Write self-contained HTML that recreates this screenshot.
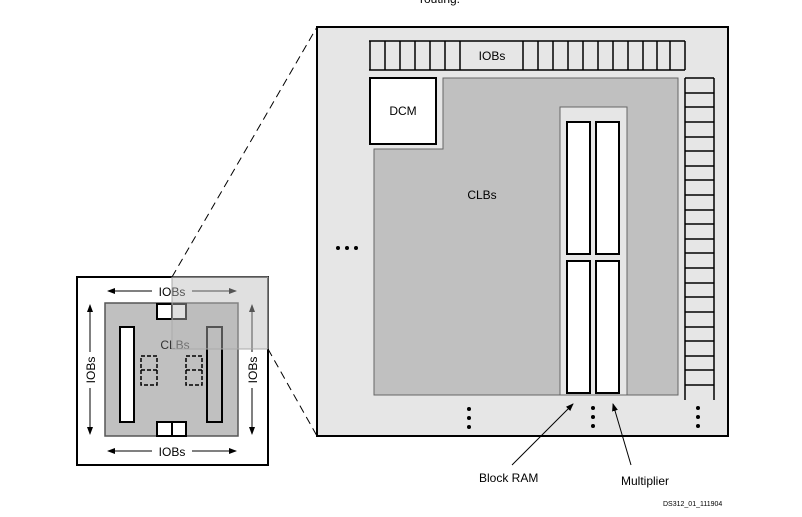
<!DOCTYPE html>
<html><head><meta charset="utf-8"><style>
html,body{margin:0;padding:0;background:#fff;width:802px;height:517px;overflow:hidden}
svg{display:block}
text{font-family:"Liberation Sans",sans-serif}
</style></head><body>
<svg width="802" height="517" viewBox="0 0 802 517" xmlns="http://www.w3.org/2000/svg">
<defs>
<marker id="ah" markerWidth="8" markerHeight="6" refX="7" refY="3" orient="auto" markerUnits="userSpaceOnUse"><path d="M0,0 L8,3 L0,6 Z" fill="#000"/></marker>
<marker id="ahg" markerWidth="8" markerHeight="6" refX="7" refY="3" orient="auto" markerUnits="userSpaceOnUse"><path d="M0,0 L8,3 L0,6 Z" fill="#888"/></marker>
</defs>
<text x="440" y="3" font-size="12" text-anchor="middle">routing.</text>

<!-- big box -->
<rect x="317" y="27" width="411" height="409" fill="#e6e6e6" stroke="#000" stroke-width="2"/>
<!-- top IOBs -->
<g stroke="#000" stroke-width="1.5">
<line x1="369" y1="41" x2="685" y2="41"/><line x1="369" y1="70" x2="685" y2="70"/>
<line x1="370" y1="41" x2="370" y2="70"/><line x1="385" y1="41" x2="385" y2="70"/><line x1="400" y1="41" x2="400" y2="70"/><line x1="415" y1="41" x2="415" y2="70"/><line x1="430" y1="41" x2="430" y2="70"/><line x1="445" y1="41" x2="445" y2="70"/><line x1="460" y1="41" x2="460" y2="70"/>
<line x1="523" y1="41" x2="523" y2="70"/><line x1="538" y1="41" x2="538" y2="70"/><line x1="553" y1="41" x2="553" y2="70"/><line x1="568" y1="41" x2="568" y2="70"/><line x1="583" y1="41" x2="583" y2="70"/><line x1="598" y1="41" x2="598" y2="70"/><line x1="613" y1="41" x2="613" y2="70"/><line x1="628" y1="41" x2="628" y2="70"/><line x1="643" y1="41" x2="643" y2="70"/><line x1="657" y1="41" x2="657" y2="70"/><line x1="670" y1="41" x2="670" y2="70"/><line x1="685" y1="41" x2="685" y2="70"/>
</g>
<text x="492" y="60" font-size="12" text-anchor="middle">IOBs</text>
<!-- CLB region -->
<path d="M443,78 H678 V395 H374 V149 H443 Z" fill="#c0c0c0" stroke="#666" stroke-width="1"/>
<rect x="370" y="78" width="66" height="66" fill="#fff" stroke="#000" stroke-width="2"/>
<text x="403" y="115" font-size="12" text-anchor="middle">DCM</text>
<text x="482" y="199" font-size="12" text-anchor="middle">CLBs</text>
<rect x="560" y="107" width="67" height="288" fill="#e6e6e6" stroke="#666" stroke-width="1"/>
<g fill="#fff" stroke="#000" stroke-width="2">
<rect x="567" y="122" width="23" height="132"/><rect x="596" y="122" width="23" height="132"/>
<rect x="567" y="261" width="23" height="132"/><rect x="596" y="261" width="23" height="132"/>
</g>
<!-- right IOBs -->
<g stroke="#000" stroke-width="1.5">
<line x1="685" y1="78" x2="685" y2="400"/><line x1="714" y1="78" x2="714" y2="400"/>
<line x1="685" y1="78" x2="714" y2="78"/><line x1="685" y1="93" x2="714" y2="93"/><line x1="685" y1="107" x2="714" y2="107"/><line x1="685" y1="122" x2="714" y2="122"/><line x1="685" y1="137" x2="714" y2="137"/><line x1="685" y1="151" x2="714" y2="151"/><line x1="685" y1="166" x2="714" y2="166"/><line x1="685" y1="180" x2="714" y2="180"/><line x1="685" y1="195" x2="714" y2="195"/><line x1="685" y1="210" x2="714" y2="210"/><line x1="685" y1="224" x2="714" y2="224"/><line x1="685" y1="239" x2="714" y2="239"/><line x1="685" y1="253" x2="714" y2="253"/><line x1="685" y1="268" x2="714" y2="268"/><line x1="685" y1="283" x2="714" y2="283"/><line x1="685" y1="297" x2="714" y2="297"/><line x1="685" y1="312" x2="714" y2="312"/><line x1="685" y1="327" x2="714" y2="327"/><line x1="685" y1="341" x2="714" y2="341"/><line x1="685" y1="356" x2="714" y2="356"/><line x1="685" y1="370" x2="714" y2="370"/><line x1="685" y1="385" x2="714" y2="385"/>
</g>
<!-- dots -->
<g fill="#000">
<circle cx="338" cy="248" r="2"/><circle cx="347" cy="248" r="2"/><circle cx="356" cy="248" r="2"/>
<circle cx="469" cy="409" r="2"/><circle cx="469" cy="418" r="2"/><circle cx="469" cy="427" r="2"/>
<circle cx="593" cy="408" r="2"/><circle cx="593" cy="417" r="2"/><circle cx="593" cy="426" r="2"/>
<circle cx="698" cy="408" r="2"/><circle cx="698" cy="417" r="2"/><circle cx="698" cy="426" r="2"/>
</g>
<!-- callouts -->
<line x1="512" y1="465" x2="573" y2="404" stroke="#000" stroke-width="1" marker-end="url(#ah)"/>
<line x1="631" y1="465" x2="613" y2="404" stroke="#000" stroke-width="1" marker-end="url(#ah)"/>
<text x="479" y="482" font-size="12">Block RAM</text>
<text x="621" y="485" font-size="12">Multiplier</text>
<text x="663" y="506" font-size="7">DS312_01_111904</text>

<!-- small diagram -->
<rect x="77" y="277" width="191" height="188" fill="#fff" stroke="#000" stroke-width="2"/>
<rect x="105" y="303" width="133" height="133" fill="#c0c0c0" stroke="#555" stroke-width="1.5"/>
<g fill="#fff" stroke="#000" stroke-width="2">
<rect x="157" y="304" width="15" height="15"/><rect x="172" y="304" width="14" height="15"/>
<rect x="157" y="422" width="15" height="14"/><rect x="172" y="422" width="14" height="14"/>
<rect x="120" y="327" width="14" height="95"/>
</g>
<rect x="207" y="327" width="15" height="95" fill="#c0c0c0" stroke="#000" stroke-width="2"/>
<g fill="none" stroke="#000" stroke-width="1.5" stroke-dasharray="4,2">
<rect x="141" y="356" width="16" height="29"/><line x1="141" y1="370" x2="157" y2="370"/>
<rect x="186" y="356" width="16" height="29"/><line x1="186" y1="370" x2="202" y2="370"/>
</g>
<text x="175" y="349" font-size="12" text-anchor="middle" fill="#333">CLBs</text>
<!-- arrows -->
<g stroke="#000" stroke-width="1">
<line x1="152" y1="291" x2="108" y2="291" marker-end="url(#ah)"/>
<line x1="192" y1="291" x2="236" y2="291" marker-end="url(#ah)"/>
<line x1="152" y1="451" x2="108" y2="451" marker-end="url(#ah)"/>
<line x1="192" y1="451" x2="236" y2="451" marker-end="url(#ah)"/>
<line x1="90" y1="352" x2="90" y2="305" marker-end="url(#ah)"/>
<line x1="90" y1="388" x2="90" y2="434" marker-end="url(#ah)"/>
<line x1="252" y1="352" x2="252" y2="305" marker-end="url(#ah)"/>
<line x1="252" y1="388" x2="252" y2="434" marker-end="url(#ah)"/>
</g>
<text x="172" y="296" font-size="12" text-anchor="middle">IOBs</text>
<text x="172" y="456" font-size="12" text-anchor="middle">IOBs</text>
<text transform="translate(95,370) rotate(-90)" font-size="12" text-anchor="middle">IOBs</text>
<text transform="translate(257,370) rotate(-90)" font-size="12" text-anchor="middle">IOBs</text>
<!-- overlay -->
<rect x="172" y="277" width="96" height="72" fill="#bbb" fill-opacity="0.45" stroke="#aaa" stroke-width="1"/>
<line x1="172" y1="277" x2="317" y2="27" stroke="#000" stroke-width="1" stroke-dasharray="8,5"/>
<line x1="268" y1="349" x2="317" y2="436" stroke="#000" stroke-width="1" stroke-dasharray="8,5"/>
</svg>
</body></html>
